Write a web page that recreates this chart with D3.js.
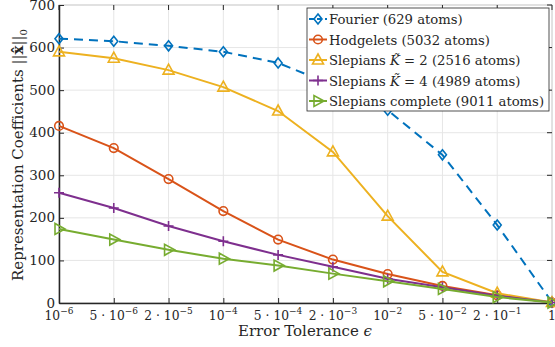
<!DOCTYPE html>
<html><head><meta charset="utf-8">
<script src="https://cdn.jsdelivr.net/npm/d3@7"></script>
<style>body{margin:0;background:#fff}svg{display:block}</style>
</head><body><svg id="c" width="555" height="347"></svg>
<script>
const categories = ["1e-6","5e-6","2e-5","1e-4","5e-4","2e-3","1e-2","5e-2","2e-1","1"];
const tickLabels = [["10","-6"],["5 · 10","-6"],["2 · 10","-5"],["10","-4"],["5 · 10","-4"],["2 · 10","-3"],["10","-2"],["5 · 10","-2"],["2 · 10","-1"],["1",""]];
const fourier   = [621, 615, 604, 590, 564, 512, 453, 348, 183, 2];
const hodgelets = [416, 364, 291, 216, 149, 102, 68, 40, 18, 1];
const slepK2    = [590, 575, 547, 507, 451, 355, 204, 73, 23, 1];
const slepK4    = [259, 223, 181, 145, 113, 85, 57, 37, 17, 1];
const slepAll   = [174, 149, 125, 104, 88, 69, 51, 33, 14, 1];
const yTicks = [0,100,200,300,400,500,600,700];
const seriesNames = ["Fourier (629 atoms)","Hodgelets (5032 atoms)","Slepians K2","Slepians K4","Slepians complete (9011 atoms)"];

const FONT = "'DejaVu Serif', 'Liberation Serif', serif";
const series = [
  {name:seriesNames[0], vals:fourier, color:"#0072BD", marker:"diamond", dash:"9,6"},
  {name:seriesNames[1], vals:hodgelets, color:"#D95319", marker:"circle"},
  {name:seriesNames[2], vals:slepK2, color:"#EDB120", marker:"triangle"},
  {name:seriesNames[3], vals:slepK4, color:"#7E2F8E", marker:"plus"},
  {name:seriesNames[4], vals:slepAll, color:"#77AC30", marker:"right"}
];

const svg = d3.select("#c").attr("font-family",FONT);
const L=59, R=552, T=5, B=303;
const x = d3.scalePoint().domain(categories).range([L,R]);
const y = d3.scaleLinear().domain([0,700]).range([B,T]);

const g = svg.append("g");
g.selectAll(".gx").data(categories).join("line").attr("x1",d=>x(d)).attr("x2",d=>x(d)).attr("y1",T).attr("y2",B).attr("stroke","#e6e6e6").attr("stroke-width",1);
g.selectAll(".gy").data(yTicks).join("line").attr("x1",L).attr("x2",R).attr("y1",d=>y(d)).attr("y2",d=>y(d)).attr("stroke","#e6e6e6").attr("stroke-width",1);

svg.append("rect").attr("x",L).attr("y",T).attr("width",R-L).attr("height",B-T).attr("fill","none").attr("stroke","#d0d0d0").attr("stroke-width",1);

const ax = svg.append("g").attr("transform",`translate(0,${B})`).call(d3.axisBottom(x).tickSizeInner(-5).tickSizeOuter(0).tickFormat(""));
ax.select(".domain").attr("stroke","#262626").attr("stroke-width",1.5);
ax.selectAll(".tick line").attr("stroke","#262626");
const ay = svg.append("g").attr("transform",`translate(${L},0)`).call(d3.axisLeft(y).tickValues(yTicks).tickSizeInner(-5).tickSizeOuter(0).tickFormat(""));
ay.select(".domain").attr("stroke","#262626").attr("stroke-width",1.5);
ay.selectAll(".tick line").attr("stroke","#262626");
svg.selectAll(".rt").data(yTicks).join("line").attr("x1",R).attr("x2",R-5).attr("y1",d=>y(d)).attr("y2",d=>y(d)).attr("stroke","#262626");
svg.selectAll(".tt").data(categories).join("line").attr("x1",d=>x(d)).attr("x2",d=>x(d)).attr("y1",T).attr("y2",T+5).attr("stroke","#262626");

svg.selectAll(".yl").data(yTicks).join("text").attr("x",L-4).attr("y",d=>y(d)+4.5).attr("text-anchor","end").attr("font-size",13.5).attr("fill","#262626").text(d=>d);
const xl = svg.selectAll(".xl").data(categories).join("text").attr("x",d=>x(d)).attr("y",B+17).attr("text-anchor","middle").attr("font-size",12.3).attr("fill","#262626");
xl.each(function(d,i){
  const t=d3.select(this); const lab=tickLabels[i];
  t.append("tspan").text(lab[0]);
  if(lab[1]) t.append("tspan").attr("dy",-6).attr("font-size",9).text(lab[1].replace("-","−"));
});

const xt = svg.append("text").attr("x",305).attr("y",336).attr("text-anchor","middle").attr("font-size",15).attr("fill","#262626");
xt.append("tspan").text("Error Tolerance ");
xt.append("tspan").attr("font-style","italic").text("ϵ");
const yt = svg.append("text").attr("transform","translate(23,155) rotate(-90)").attr("text-anchor","middle").attr("font-size",15).attr("fill","#262626");
yt.append("tspan").text("Representation Coefficients ||");
yt.append("tspan").attr("font-weight","bold").text("x̂");
yt.append("tspan").text("||");
yt.append("tspan").attr("dy",4).attr("font-size",10).text("0");

function drawMarker(sel, type, color){
  const s=5;
  if(type==="diamond") sel.append("path").attr("d",`M0,${-s}L${s*0.8},0L0,${s}L${-s*0.8},0Z`).attr("fill","none").attr("stroke",color).attr("stroke-width",1.6);
  else if(type==="circle") sel.append("circle").attr("r",4.3).attr("fill","none").attr("stroke",color).attr("stroke-width",1.6);
  else if(type==="triangle") sel.append("path").attr("d",`M0,${-s-1}L${s+0.5},${s-1}L${-s-0.5},${s-1}Z`).attr("fill","none").attr("stroke",color).attr("stroke-width",1.6);
  else if(type==="plus") sel.append("path").attr("d",`M${-s},0H${s}M0,${-s}V${s}`).attr("stroke",color).attr("stroke-width",1.6);
  else if(type==="right") sel.append("path").attr("d",`M${s+1},0L${-s+1},${-s-0.5}L${-s+1},${s+0.5}Z`).attr("fill","none").attr("stroke",color).attr("stroke-width",1.6);
}

const line = d3.line().x((d,i)=>x(categories[i])).y(d=>y(d));
series.forEach(s=>{
  svg.append("path").datum(s.vals).attr("d",line).attr("fill","none").attr("stroke",s.color).attr("stroke-width",2).attr("stroke-dasharray",s.dash||null);
  s.vals.forEach((v,i)=>{
    const m=svg.append("g").attr("transform",`translate(${x(categories[i])},${y(v)})`);
    drawMarker(m,s.marker,s.color);
  });
});

const lg = svg.append("g");
lg.append("rect").attr("x",307).attr("y",8).attr("width",242).attr("height",103).attr("fill","#fff").attr("stroke","#262626").attr("stroke-width",0.8);
series.forEach((s,i)=>{
  const yy = 19 + i*20.5;
  lg.append("line").attr("x1",309).attr("x2",327).attr("y1",yy).attr("y2",yy).attr("stroke",s.color).attr("stroke-width",2).attr("stroke-dasharray",s.dash?"5,3":null);
  const m=lg.append("g").attr("transform",`translate(318,${yy})`);
  drawMarker(m,s.marker,s.color);
  const t=lg.append("text").attr("x",329).attr("y",yy+5).attr("font-size",13.2).attr("fill","#262626");
  if(i===2||i===3){
    t.append("tspan").text("Slepians ");
    t.append("tspan").attr("font-style","italic").text("K̃");
    t.append("tspan").text(i===2?" = 2 (2516 atoms)":" = 4 (4989 atoms)");
  } else t.text(s.name);
});
</script></body></html>
